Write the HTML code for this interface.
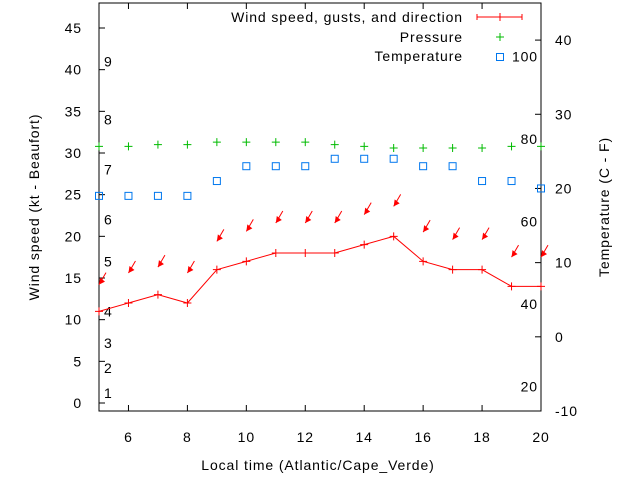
<!DOCTYPE html>
<html><head><meta charset="utf-8"><style>
body{margin:0;background:#fff}
svg{display:block;font-family:"Liberation Sans",sans-serif;font-size:14px}
text{letter-spacing:0.9px}
</style></head><body>
<svg id="c" width="640" height="480" viewBox="0 0 640 480"></svg>
<script>
const hours=[5,6,7,8,9,10,11,12,13,14,15,16,17,18,19,20];
const windKt=[11,12,13,12,16,17,18,18,18,19,20,17,16,16,14,14];
const gustKt=[14.2,15.6,16.3,15.6,19.4,20.6,21.6,21.6,21.6,22.6,23.6,20.5,19.6,19.6,17.5,17.5];
const pressure=[30.8,30.8,31.0,31.0,31.3,31.3,31.3,31.3,31.0,30.8,30.6,30.6,30.6,30.6,30.8,30.8];
const tempC=[19,19,19,19,21,23,23,23,24,24,24,23,23,21,21,20];
const xTicks=[6,8,10,12,14,16,18,20];
const yTicks=[0,5,10,15,20,25,30,35,40,45];
const y2Ticks=[-10,0,10,20,30,40];
const fTicks=[20,40,60,80,100];
const beaufort=[[1,1.2],[2,4.2],[3,7.2],[4,11],[5,17],[6,22],[7,28],[8,34],[9,41]];

const L=99,R=541,T=3,B=411;
const X=h=>L+(h-5)/15*(R-L);
const Y=v=>B-(v+0.96)/48.96*(B-T);
const Y2=c=>B-(c+10)/55*(B-T);
const svg=document.getElementById('c');
const NS='http://www.w3.org/2000/svg';
function mk(tag,attrs,name,txt){const e=document.createElementNS(NS,tag);for(const k in attrs)e.setAttribute(k,attrs[k]);


if(txt!==undefined)e.textContent=txt;svg.appendChild(e);return e;}

mk('rect',{x:L,y:T,width:R-L,height:B-T,fill:'none',stroke:'#000','stroke-width':1},'plot-frame');
xTicks.forEach(t=>{const x=X(t);
mk('line',{x1:x,y1:B,x2:x,y2:B-6,stroke:'#000'},'x-tick');
mk('line',{x1:x,y1:T,x2:x,y2:T+6,stroke:'#000'},'x-tick-top');
mk('text',{x:x,y:442,'text-anchor':'middle'},'x-tick-label',t);});
yTicks.forEach(t=>{const y=Y(t);
mk('line',{x1:L,y1:y,x2:L+6,y2:y,stroke:'#000'},'y-tick');
mk('text',{x:82,y:y+5,'text-anchor':'end'},'y-tick-label',t);});
y2Ticks.forEach(t=>{const y=Y2(t);
mk('line',{x1:R,y1:y,x2:R-6,y2:y,stroke:'#000'},'y2-tick');
mk('text',{x:555,y:y+5,'text-anchor':'start'},'y2-tick-label',t);});
fTicks.forEach(f=>{const y=Y2((f-32)*5/9);
mk('text',{x:538,y:y+5,'text-anchor':'end'},'fahrenheit-label',f);});
beaufort.forEach(b=>{mk('text',{x:104,y:Y(b[1])+5},'beaufort-label',b[0]);});

mk('text',{x:318,y:470,'text-anchor':'middle'},'x-axis-title','Local time (Atlantic/Cape_Verde)');
mk('text',{x:0,y:0,'text-anchor':'middle',transform:'translate(39,207) rotate(-90)'},'y-axis-title','Wind speed (kt - Beaufort)');
mk('text',{x:0,y:0,'text-anchor':'middle',transform:'translate(609,207) rotate(-90)'},'y2-axis-title','Temperature (C - F)');

mk('polyline',{points:hours.map((h,i)=>X(h)+','+Y(windKt[i])).join(' '),fill:'none',stroke:'#f00'},'wind-speed-line');
hours.forEach((h,i)=>{const x=X(h),y=Y(windKt[i]);
mk('path',{d:`M${x-4},${y}h8M${x},${y-4}v8`,stroke:'#f00'},'wind-point');});
hours.forEach((h,i)=>{const x=X(h),y=Y(gustKt[i]);
mk('line',{x1:x,y1:y,x2:x+7,y2:y-12,stroke:'#f00'},'gust-arrow-shaft');
mk('polygon',{points:`${x},${y} ${x+1},${y-7} ${x+6},${y-3}`,fill:'#f00'},'gust-arrow-head');});
hours.forEach((h,i)=>{const x=X(h),y=Y(pressure[i]);
mk('path',{d:`M${x-4},${y}h8M${x},${y-4}v8`,stroke:'#0b0'},'pressure-point');});
hours.forEach((h,i)=>{const x=X(h),y=Y2(tempC[i]);
mk('rect',{x:x-3.5,y:y-3.5,width:7,height:7,fill:'none',stroke:'#07e'},'temperature-point');});

mk('text',{x:463,y:22,'text-anchor':'end'},'legend-wind-label','Wind speed, gusts, and direction');
mk('path',{d:'M477,17h45M477,14v6M522,14v6M500,13v8',stroke:'#f00'},'legend-wind-sample');
mk('text',{x:463,y:42,'text-anchor':'end'},'legend-pressure-label','Pressure');
mk('path',{d:'M496,37h8M500,33v8',stroke:'#0b0'},'legend-pressure-sample');
mk('text',{x:463,y:61,'text-anchor':'end'},'legend-temperature-label','Temperature');
mk('rect',{x:496.5,y:53.5,width:7,height:7,fill:'none',stroke:'#07e'},'legend-temperature-sample');
</script>
</body></html>
